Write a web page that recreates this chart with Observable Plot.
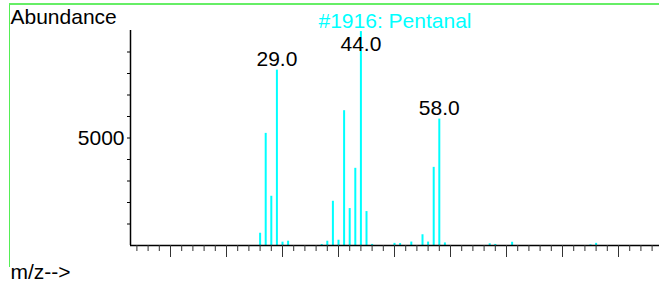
<!DOCTYPE html>
<html>
<head>
<meta charset="utf-8">
<script src="https://cdn.jsdelivr.net/npm/d3@7"></script>
<script src="https://cdn.jsdelivr.net/npm/@observablehq/plot@0.6"></script>
<style>
  html, body { margin: 0; padding: 0; background: #fff; }
  #wrap { position: relative; width: 659px; height: 282px; overflow: hidden; }
  #green { position: absolute; left: 9px; top: 3px; width: 660px; height: 262px;
           border-left: 1px solid #55ee55; border-top: 2px solid #66ee66; pointer-events: none; }
  svg { display: block; }
</style>
</head>
<body>
<div id="wrap"><div id="green"></div></div>
<script>
// ---- data ----
const mz =        [26,  27,   28,   29,   30,  31,  37, 38,  39,   40,  41,   42,   43,   44,   45,   46, 50,  51, 53,  55,  56,  57,   58,   59,  67, 68, 71,  85, 86];
const abundance = [570, 5215, 2290, 8157, 155, 200, 45, 200, 2057, 246, 6270, 1718, 3590, 9950, 1578, 50, 100, 90, 160, 500, 160, 3635, 5880, 120, 80, 50, 150, 30, 100];
const labeledMz = [29, 44, 58];
const labeledText = ["29.0", "44.0", "58.0"];
const minorTicks = d3.range(4, 97, 2);
const majorTicks = [10, 20, 30, 40, 50, 60, 70, 80, 90];
const yTicks = [1000, 2000, 3000, 4000, 5000, 6000, 7000, 8000, 9000];
const yTickLabels = {5000: "5000"};
const title = "#1916: Pentanal";
const yLabel = "Abundance";
const xLabel = "m/z-->";
const xDomain = [2.857, 97.32];
const yDomain = [0, 10000];

const peaks = mz.map((m, i) => ({mz: m, abundance: abundance[i]}));
const labels = labeledMz.map((m, i) => ({mz: m, abundance: abundance[mz.indexOf(m)], text: labeledText[i]}));

const font = "'Liberation Sans', Arial, sans-serif";
const cyan = "#00ffff";

const chart = Plot.plot({
  width: 659,
  height: 282,
  marginLeft: 130,
  marginRight: 0,
  marginTop: 30,
  marginBottom: 37,
  x: {domain: xDomain},
  y: {domain: yDomain},
  style: {fontFamily: font, fontSize: "21px", background: "transparent", color: "black"},
  marks: [
    Plot.ruleX(peaks, {x: "mz", y1: 0, y2: "abundance", stroke: cyan, strokeWidth: 2}),
    Plot.ruleY([yDomain[0]], {stroke: "black", strokeWidth: 1.5}),
    Plot.ruleX([xDomain[0]], {stroke: "black", strokeWidth: 1.5}),
    Plot.axisX({ticks: minorTicks, tickSize: 6, tickFormat: () => "", label: null, stroke: "#333"}),
    Plot.axisX({ticks: majorTicks, tickSize: 12, tickFormat: () => "", label: null, stroke: "#333"}),
    Plot.axisY({ticks: yTicks, tickSize: 3, tickPadding: 3, tickFormat: d => yTickLabels[d] || "", label: null, fontSize: 21, stroke: "black"}),
    Plot.text(labels, {x: "mz", y: d => Math.min(d.abundance, 8870), text: "text", lineAnchor: "bottom", dy: -4, fill: "black", fontSize: 21}),
    Plot.text([title], {frameAnchor: "top", lineAnchor: "bottom", dy: -3, fill: cyan, fontSize: 21}),
    Plot.text([yLabel], {frameAnchor: "top-left", textAnchor: "start", lineAnchor: "bottom", dx: -120, dy: -6.5, fill: "black", fontSize: 21}),
    Plot.text([xLabel], {frameAnchor: "bottom-left", textAnchor: "start", lineAnchor: "bottom", dx: -120, dy: 33, fill: "black", fontSize: 21})
  ]
});
document.getElementById("wrap").prepend(chart);
</script>
</body>
</html>
